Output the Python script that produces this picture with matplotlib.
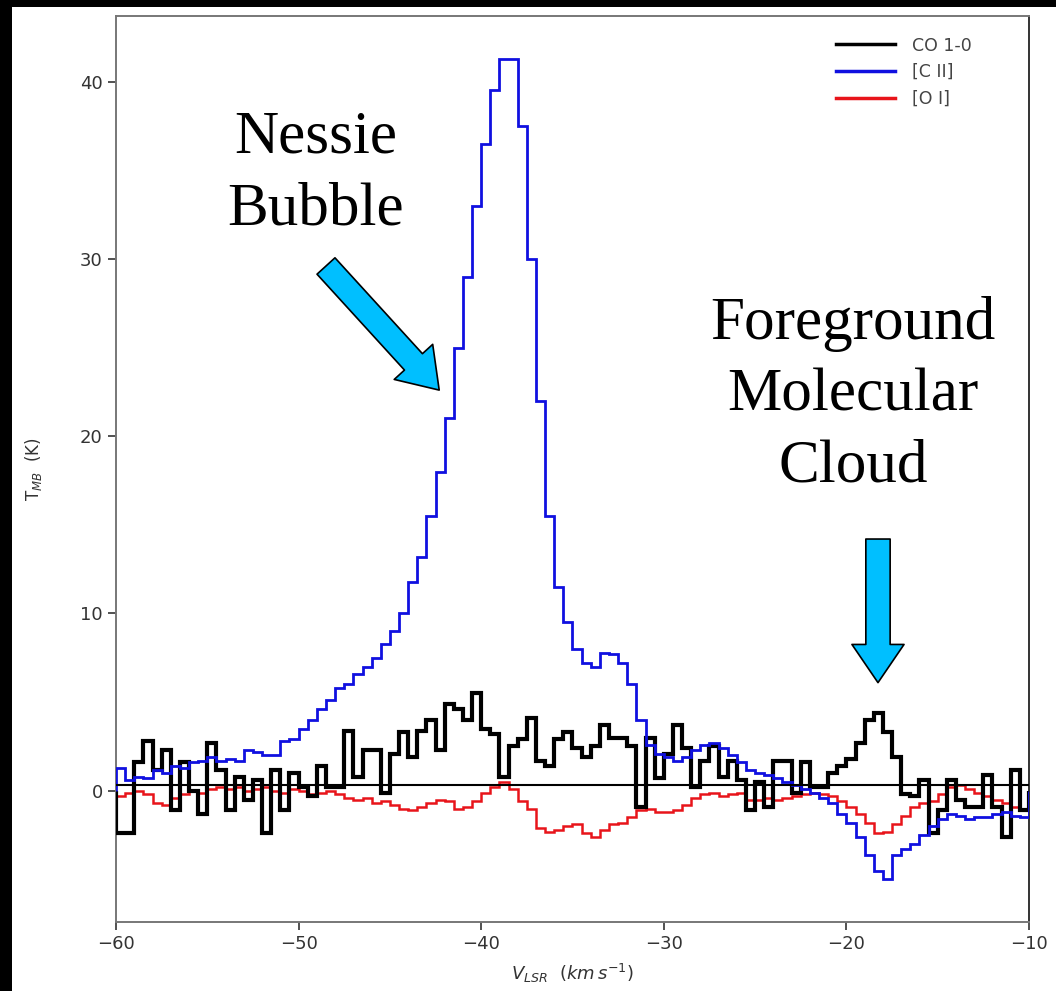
import numpy as np
import matplotlib
matplotlib.use('Agg')
import matplotlib.pyplot as plt
from matplotlib.patches import Rectangle, FancyArrowPatch

# channel edges, 0.5 km/s from -60 to -10
v_edges = np.arange(-60, -9.99, 0.5)

co = [-2.4, -2.4, 1.6, 2.8, 1.2, 2.3, -1.1, 1.6, 0.0, -1.3,
      2.7, 1.2, -1.1, 0.8, -0.5, 0.6, -2.4, 1.2, -1.1, 1.0,
      0.2, -0.3, 1.4, 0.2, 0.2, 3.4, 0.8, 2.3, 2.3, -0.1,
      2.1, 3.3, 1.9, 3.4, 4.0, 2.3, 4.9, 4.6, 4.0, 5.5,
      3.5, 3.2, 0.8, 2.5, 2.9, 4.1, 1.7, 1.4, 2.9, 3.3,
      2.4, 1.9, 2.5, 3.7, 3.0, 3.0, 2.5, -0.9, 3.0, 0.7,
      2.1, 3.7, 2.4, 0.2, 1.7, 2.5, 0.8, 1.7, 0.6, -1.1,
      0.5, -0.9, 1.7, 1.7, -0.1, 1.6, 0.2, 0.2, 1.0, 1.4,
      1.8, 2.7, 4.0, 4.4, 3.3, 1.9, -0.2, -0.3, 0.6, -2.4,
      -1.1, 0.6, -0.5, -0.9, -0.9, 0.9, -0.9, -2.6, 1.2, -1.1]

cii = [1.3, 0.6, 0.8, 0.7, 1.2, 1.0, 1.4, 1.3, 1.6, 1.7,
       1.9, 1.7, 1.8, 1.7, 2.3, 2.2, 2.0, 2.0, 2.8, 2.9,
       3.5, 4.0, 4.6, 5.1, 5.8, 6.0, 6.6, 7.0, 7.5, 8.3,
       9.0, 10.0, 11.8, 13.2, 15.5, 18.0, 21.0, 25.0, 29.0, 33.0,
       36.5, 39.5, 41.3, 41.3, 37.5, 30.0, 22.0, 15.5, 11.5, 9.5,
       8.0, 7.2, 7.0, 7.8, 7.7, 7.2, 6.0, 4.0, 2.6, 2.1,
       1.9, 1.7, 1.9, 2.3, 2.6, 2.7, 2.4, 2.0, 1.6, 1.2,
       1.0, 0.9, 0.7, 0.5, 0.3, 0.1, -0.1, -0.4, -0.7, -1.3,
       -1.8, -2.6, -3.6, -4.5, -5.0, -3.6, -3.3, -3.0, -2.5, -2.0,
       -1.6, -1.3, -1.4, -1.6, -1.5, -1.5, -1.3, -1.2, -1.4, -1.5]

oi = [-0.3, -0.1, 0.0, -0.2, -0.7, -0.8, -0.4, -0.2, 0.0, -0.1,
      0.1, 0.2, 0.1, 0.2, 0.0, 0.1, 0.2, 0.0, -0.1, 0.1,
      0.0, -0.2, -0.1, 0.0, -0.2, -0.4, -0.5, -0.4, -0.7, -0.6,
      -0.8, -1.0, -1.1, -0.9, -0.7, -0.5, -0.6, -1.0, -0.9, -0.6,
      -0.1, 0.2, 0.5, 0.1, -0.6, -1.0, -2.1, -2.3, -2.2, -2.0,
      -1.9, -2.4, -2.6, -2.2, -1.9, -1.8, -1.5, -1.1, -1.0, -1.2,
      -1.2, -1.1, -0.8, -0.4, -0.2, -0.1, -0.3, -0.2, -0.1, -0.5,
      -0.5, -0.4, -0.5, -0.4, -0.3, -0.2, -0.1, -0.2, -0.3, -0.6,
      -0.9, -1.3, -1.8, -2.4, -2.3, -1.9, -1.4, -0.9, -0.7, -0.6,
      -0.2, 0.2, 0.3, 0.1, -0.1, -0.3, -0.5, -0.7, -0.9, -1.1]

fig = plt.figure(figsize=(10.56, 9.91), dpi=100)
fig.patch.set_facecolor('black')
fig.add_artist(Rectangle((12 / 1056, 0), 1, 1 - 7 / 991, transform=fig.transFigure,
                         facecolor='white', edgecolor='none', zorder=-10))

ax = fig.add_axes([116 / 1056, 1 - 922 / 991, (1029 - 116) / 1056, (922 - 16) / 991])
ax.stairs(co, v_edges, color='black', lw=3.0, label='CO 1-0', zorder=3)
ax.stairs(cii, v_edges, color='#1010e0', lw=2.0, label='[C II]', zorder=4)
ax.stairs(oi, v_edges, color='#e8141a', lw=1.8, label='[O I]', zorder=2)
ax.axhline(0.3, color='black', lw=1.5, zorder=5)

ax.set_xlim(-60, -10)
ax.set_ylim(-7.4, 43.7)
ax.set_xticks([-60, -50, -40, -30, -20, -10])
ax.set_yticks([0, 10, 20, 30, 40])
ax.tick_params(labelsize=13, colors='#333333', length=6, width=1.2)
for s in ax.spines.values():
    s.set_color('#777777')
    s.set_linewidth(1.4)
ax.spines['right'].set_color('#333333')

ax.set_xlabel(r'$V_{LSR}\ \ (km\,s^{-1})$', fontsize=13, color='#333333', labelpad=6)
ax.set_ylabel(r'T$_{MB}$  (K)', fontsize=12, color='#333333', labelpad=26)

leg = ax.legend(loc='upper right', bbox_to_anchor=(0.945, 0.985), frameon=False,
                fontsize=12.5, handlelength=3.4, handletextpad=1.0,
                labelspacing=0.5, borderaxespad=0.0)
for t in leg.get_texts():
    t.set_color('#444444')
for h in leg.legend_handles:
    h.set_linewidth(2.5)

serif = ['Liberation Serif', 'DejaVu Serif']
ax.text(-49.05, 34.8, 'Nessie\nBubble', family=serif, fontsize=44,
        ha='center', va='center', linespacing=1.4)
ax.text(-19.64, 22.3, 'Foreground\nMolecular\nCloud', family=serif, fontsize=44,
        ha='center', va='center', linespacing=1.37)

arrow_kw = dict(arrowstyle='simple,head_length=0.55,head_width=0.75,tail_width=0.35',
                mutation_scale=50, facecolor='#00bfff', edgecolor='black', lw=1.2,
                shrinkA=0, shrinkB=0, zorder=6)
ax.add_patch(FancyArrowPatch((-48.5, 29.6), (-42.3, 22.6), **arrow_kw))
ax.add_patch(FancyArrowPatch((-18.27, 14.2), (-18.27, 6.1), **arrow_kw))

fig.savefig('out.png', dpi=100, facecolor=fig.get_facecolor())
